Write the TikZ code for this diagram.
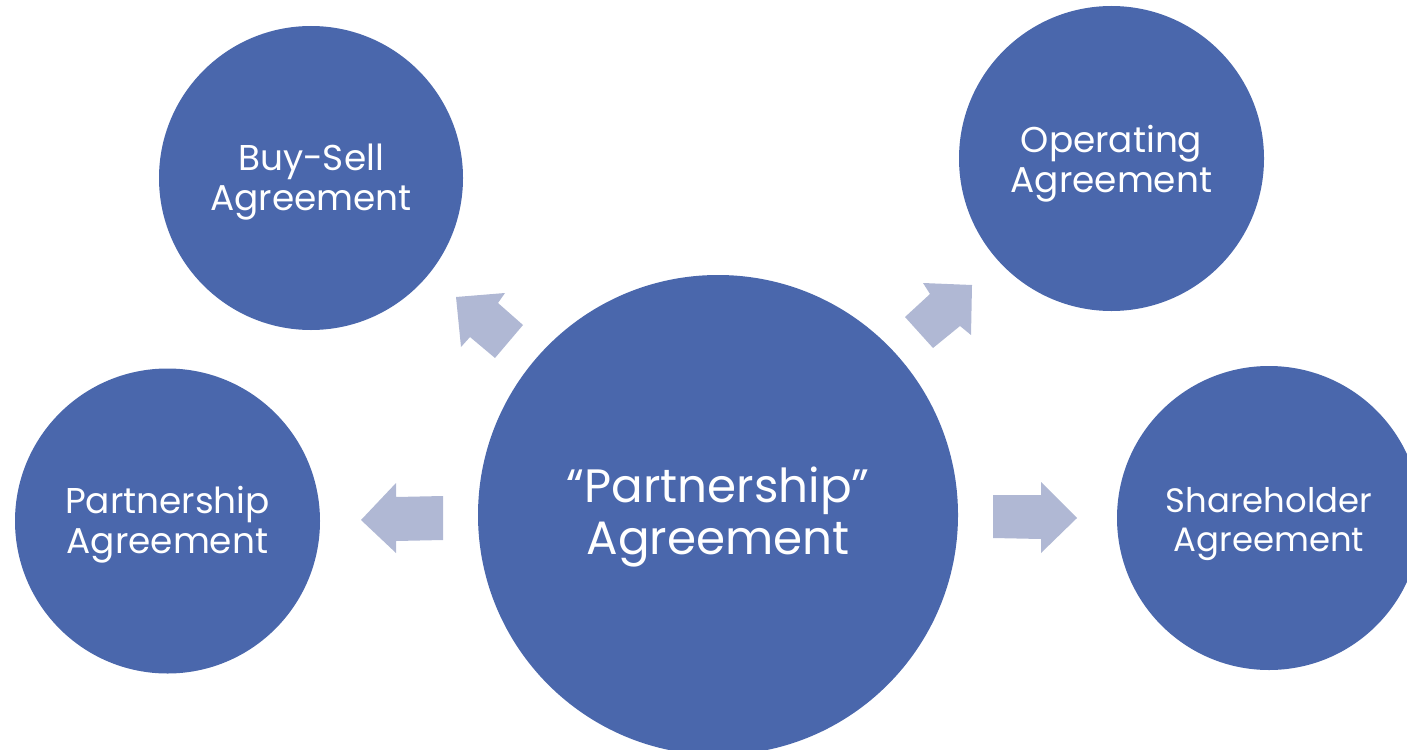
\documentclass[tikz,border=0pt]{standalone}
\usepackage{fontspec}
\setmainfont{Poppins}
\definecolor{circblue}{RGB}{74,103,172}
\definecolor{arrowgray}{RGB}{176,184,212}
\begin{document}
\begin{tikzpicture}[x=1bp,y=-1bp,
  bubbletext/.style={text=white, align=center, font=\fontsize{36}{40}\selectfont},
  smalltext/.style={text=white, align=center, font=\fontsize{34}{40}\selectfont},
  bigtext/.style={text=white, align=center, font=\fontsize{47}{53}\selectfont},
  blockarrow/.style={fill=arrowgray, draw=none}]
\useasboundingbox (0,0) rectangle (1407,749);
\begin{scope}
\clip (0,0) rectangle (1407,749);
\fill[circblue] (718,515) circle (240);
\fill[circblue] (311,178) circle (152);
\fill[circblue] (1111.5,158.5) circle (152.5);
\fill[circblue] (167.5,521) circle (152.5);
\fill[circblue] (1269,518) circle (152);
\end{scope}
\node[bigtext] (center) at (718,517) {“Partnership”\\Agreement};
\node[bubbletext] (buysell) at (311,182) {Buy-Sell\\Agreement};
\node[bubbletext] (operating) at (1111.5,164) {Operating\\Agreement};
\node[bubbletext] (partnership) at (167.5,525) {Partnership\\Agreement};
\node[smalltext] (shareholder) at (1269,524) {Shareholder\\Agreement};
% left arrow
\fill[blockarrow] (361,520) -- (396,483) -- (396,497) -- (443,496) -- (443,540) -- (396,541) -- (396,553) -- cycle;
% right arrow
\fill[blockarrow] (1077,518) -- (1041,482) -- (1041,495) -- (993,495) -- (993,538) -- (1041,539) -- (1041,553) -- cycle;
% upper-left arrow
\fill[blockarrow] (456,297) -- (505,293) -- (498,303) -- (523,325) -- (495,358) -- (470,337) -- (461,347) -- cycle;
% upper-right arrow
\fill[blockarrow] (972,285) -- (923,283) -- (930,294) -- (905,317) -- (933,348) -- (960,326) -- (971,335) -- cycle;
\end{tikzpicture}
\end{document}
